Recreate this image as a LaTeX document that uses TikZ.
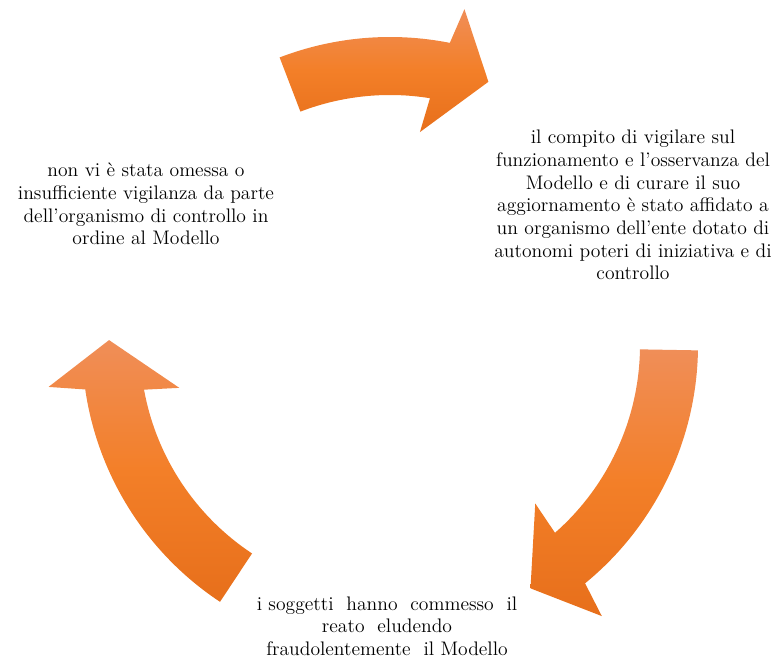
\documentclass[tikz,border=0pt]{standalone}
\usepackage{fontspec}
\definecolor{arrowtop}{RGB}{240,142,88}
\definecolor{arrowmid}{RGB}{243,127,40}
\definecolor{arrowbot}{RGB}{231,111,27}
\tikzset{
  cyclearrow/.style={top color=arrowtop, bottom color=arrowbot, middle color=arrowmid, draw=none},
  steptext/.style={align=center, font=\fontsize{14.7}{17}\selectfont, inner sep=0pt}
}

\begin{document}
\begin{tikzpicture}[x=0.75pt, y=0.75pt]
            \useasboundingbox (0,0) rectangle (780,659);
            \def\Rin{250}
            \def\Rout{308}
            \def\Bin{215}
            \def\Bout{344}
            \def\Rtip{281}
            
            \begin{scope}[shift={(390,314)}]
                \foreach \a/\b in {111/69.5, -1/-60, 236.5/179} {
                    \pgfmathsetmacro{\co}{\b+9.3}
                    \pgfmathsetmacro{\ci}{\b+11.3}
                    \shade[cyclearrow] (\a:\Rout) arc[start angle=\a, end angle=\co, radius=\Rout]
                        -- ({\b+8}:\Bout) -- (\b:\Rtip) -- ({\b+12.5}:\Bin) -- (\ci:\Rin)
                        arc[start angle=\ci, end angle=\a, radius=\Rin] -- cycle;
                }
            \end{scope}
            
            \node[steptext] (vigilanza) at (146,455) {non vi è stata omessa o\\ insufficiente vigilanza da parte\\ dell’organismo di controllo in\\ ordine al Modello};
            \node[steptext] (compito) at (633,454) {il compito di vigilare sul\\ funzionamento e l’osservanza del\\ Modello e di curare il suo\\ aggiornamento è stato affidato a\\ un organismo dell’ente dotato di\\ autonomi poteri di iniziativa e di\\ controllo};
            \node[steptext] (reato) at (387,33) {i soggetti\ \ hanno\ \ commesso\ \ il\\ reato\ \ eludendo\\ fraudolentemente\ \ il Modello};
        \end{tikzpicture}
\end{document}
